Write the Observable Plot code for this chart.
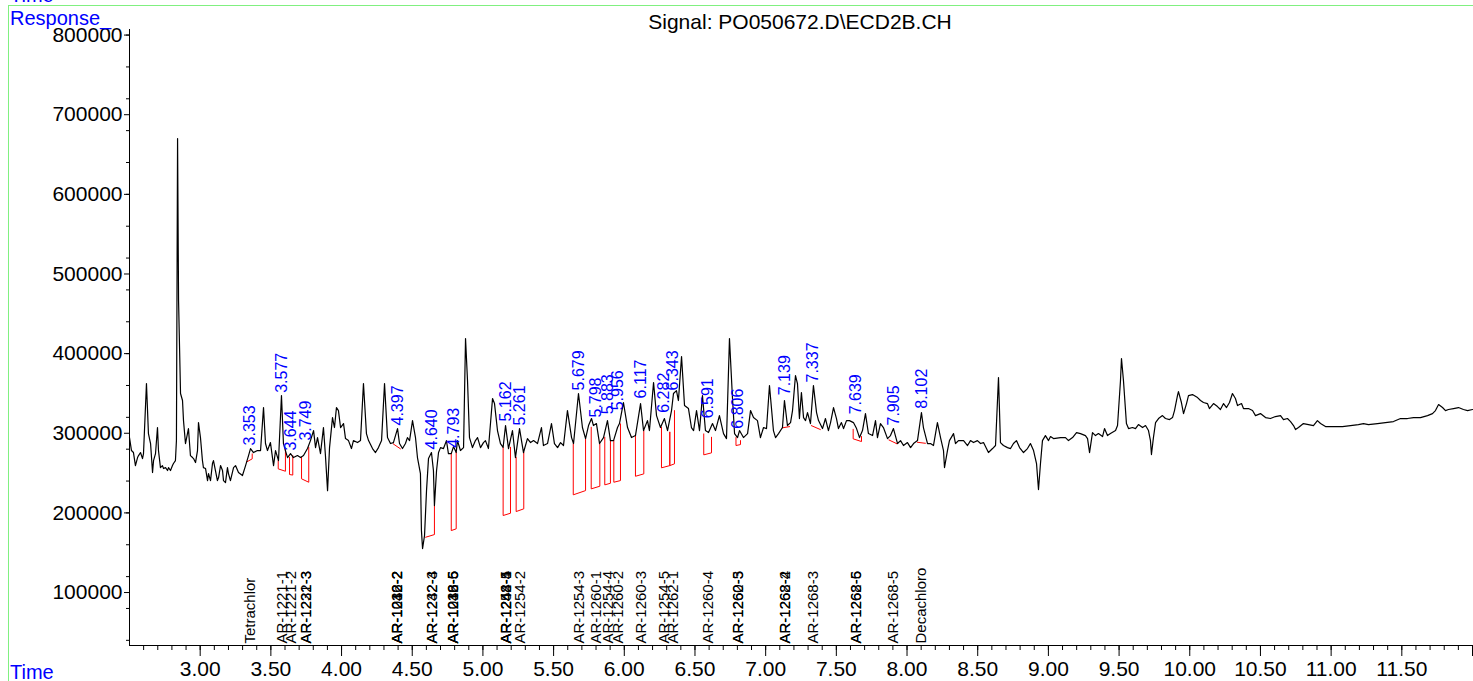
<!DOCTYPE html>
<html>
<head>
<meta charset="utf-8">
<script src="https://cdn.jsdelivr.net/npm/d3@7"></script>
<script src="https://cdn.jsdelivr.net/npm/@observablehq/plot@0.6"></script>
<style>
  html, body { margin: 0; padding: 0; background: #fff; }
  #wrap { position: relative; width: 1473px; height: 681px; overflow: hidden; background: #fff; font-family: "Liberation Sans", Arial, sans-serif; }
  #chart { position: absolute; left: 0; top: 0; }
  .frame { position: absolute; left: 8px; top: 5px; width: 1500px; height: 700px; border-left: 1px solid #80f080; border-top: 1px solid #80f080; }
  .lbl { position: absolute; font-size: 20px; line-height: 20px; color: #0000ff; white-space: nowrap; }
  .title { position: absolute; left: 800px; top: 11px; transform: translateX(-50%); font-size: 21px; line-height: 21px; color: #000; white-space: nowrap; }
</style>
</head>
<body>
<div id="wrap">
  <div id="chart"></div>
  <div class="frame"></div>
  <div class="lbl" style="left:10px; top:-15px;">Time</div>
  <div class="lbl" style="left:10px; top:8px;">Response_</div>
  <div class="lbl" style="left:10px; top:662px;">Time</div>
  <div class="title">Signal: PO050672.D\ECD2B.CH</div>
</div>
<script>
// Chromatogram trace: [retention time (min), response]
const trace = [
[2.500,294600],[2.514,278300],[2.528,275800],[2.542,259400],[2.557,269500],[2.564,272000],[2.578,275800],[2.592,268200],[2.599,274500],
[2.620,362400],[2.634,299600],[2.649,287100],[2.663,250700],[2.670,265700],[2.684,274500],[2.698,307200],[2.705,278300],[2.719,256900],
[2.733,259400],[2.741,255700],[2.755,256900],[2.769,253200],[2.776,256900],[2.790,253200],[2.804,259400],[2.811,262000],[2.825,265700],
[2.832,290800],[2.840,670000],[2.847,466600],[2.861,349900],[2.875,341100],[2.882,315900],[2.896,287100],[2.910,299600],[2.917,305900],
[2.931,272000],[2.946,269500],[2.953,268200],[2.967,263200],[2.981,278300],[2.988,313400],[3.002,294600],[3.016,265700],[3.023,256900],
[3.038,255700],[3.052,240600],[3.059,249400],[3.073,240600],[3.087,262000],[3.094,265700],[3.108,253200],[3.122,240600],[3.130,244400],
[3.144,259400],[3.158,253200],[3.165,240600],[3.179,238100],[3.193,256900],[3.200,249400],[3.214,240600],[3.236,256900],[3.250,259400],
[3.271,250700],[3.299,246900],[3.321,259400],[3.342,272000],[3.356,280800],[3.377,275800],[3.405,278300],[3.427,278300],[3.448,332300],
[3.462,287100],[3.476,278300],[3.497,288300],[3.519,259400],[3.533,278300],[3.554,265700],[3.575,347300],[3.589,287100],[3.603,278300],
[3.618,269500],[3.639,274500],[3.660,269500],[3.688,272000],[3.710,269500],[3.731,272000],[3.759,280800],[3.780,290800],[3.802,303400],
[3.816,282000],[3.830,294600],[3.851,274500],[3.872,307200],[3.886,272000],[3.901,228000],[3.915,282000],[3.936,319700],[3.950,307200],
[3.964,332300],[3.978,328500],[3.993,307200],[4.014,312200],[4.028,293300],[4.049,290800],[4.070,280800],[4.084,290800],[4.113,288300],
[4.134,290800],[4.155,362400],[4.176,299600],[4.191,290800],[4.219,280800],[4.240,275800],[4.261,282000],[4.283,290800],[4.304,362400],
[4.325,294600],[4.346,287100],[4.367,288300],[4.396,305900],[4.410,287100],[4.431,280800],[4.452,287100],[4.466,294600],[4.481,290800],
[4.502,315900],[4.523,294600],[4.537,269500],[4.558,249400],[4.565,177800],[4.573,155200],[4.587,171600],[4.601,228000],[4.615,268200],
[4.636,275800],[4.650,253200],[4.657,209200],[4.672,253200],[4.686,275800],[4.700,282000],[4.721,280800],[4.742,290800],[4.756,274500],
[4.776,274500],[4.792,283300],[4.811,275800],[4.820,290800],[4.841,278300],[4.863,282000],[4.877,418900],[4.891,366200],[4.905,294600],
[4.926,282000],[4.947,290800],[4.962,294600],[4.983,282000],[5.004,288300],[5.018,290800],[5.039,280800],[5.068,343600],[5.082,337300],
[5.103,303400],[5.124,287100],[5.143,282400],[5.160,309700],[5.181,280800],[5.209,303400],[5.230,269500],[5.259,305900],[5.287,275800],
[5.315,293300],[5.337,288300],[5.358,290800],[5.386,287100],[5.414,307200],[5.428,284600],[5.457,287100],[5.485,312200],[5.506,287100],
[5.528,282000],[5.549,288300],[5.570,284600],[5.598,328500],[5.627,294600],[5.641,287100],[5.676,349900],[5.704,307200],[5.726,293300],
[5.747,309700],[5.768,318500],[5.782,309700],[5.803,312200],[5.825,287100],[5.853,294600],[5.881,315900],[5.902,290800],[5.924,290800],
[5.952,307200],[5.966,312200],[5.994,338600],[6.023,307200],[6.051,294600],[6.079,297100],[6.115,337300],[6.136,303400],[6.164,315900],
[6.178,303400],[6.207,363700],[6.228,322200],[6.256,307200],[6.284,318500],[6.306,303400],[6.334,328500],[6.348,349900],[6.369,353600],
[6.383,341100],[6.405,396300],[6.426,334800],[6.454,331000],[6.475,307200],[6.490,303400],[6.511,328500],[6.532,303400],[6.553,347300],
[6.574,303400],[6.596,300900],[6.624,312200],[6.645,303400],[6.673,322200],[6.702,299600],[6.723,293300],[6.744,418900],[6.765,344800],
[6.780,299600],[6.801,294600],[6.815,303400],[6.843,294600],[6.872,299600],[6.893,328500],[6.914,319700],[6.942,315900],[6.963,294600],
[6.985,307200],[7.006,305900],[7.027,359900],[7.055,303400],[7.070,294600],[7.091,299600],[7.119,307200],[7.133,341100],[7.154,309700],
[7.176,313400],[7.190,328500],[7.211,372400],[7.225,362400],[7.239,318500],[7.253,351100],[7.268,319700],[7.282,315900],[7.296,326000],
[7.317,312200],[7.338,359900],[7.360,326000],[7.374,315900],[7.402,305900],[7.423,318500],[7.444,303400],[7.459,313400],[7.480,332300],
[7.501,318500],[7.515,305900],[7.536,313400],[7.551,305900],[7.572,315900],[7.593,315900],[7.621,313400],[7.643,305900],[7.664,294600],
[7.685,303400],[7.706,324700],[7.727,299600],[7.756,297100],[7.777,315900],[7.791,294600],[7.812,312200],[7.833,307200],[7.862,293300],
[7.883,297100],[7.904,305900],[7.933,287100],[7.954,290800],[7.975,284600],[8.003,288300],[8.025,282000],[8.046,287100],[8.074,290800],
[8.102,326000],[8.116,307200],[8.145,287100],[8.166,287100],[8.187,284600],[8.215,313400],[8.237,294600],[8.258,278300],[8.265,256900],
[8.286,278300],[8.300,290800],[8.329,299600],[8.343,287100],[8.364,290800],[8.400,290800],[8.428,284600],[8.449,290800],[8.470,288300],
[8.498,290800],[8.520,287100],[8.541,288300],[8.576,275800],[8.605,280800],[8.626,284600],[8.647,369900],[8.661,288300],[8.682,284600],
[8.711,282000],[8.732,280800],[8.753,287100],[8.774,290800],[8.796,282000],[8.824,275800],[8.852,280800],[8.873,287100],[8.895,278300],
[8.916,262000],[8.930,229300],[8.944,262000],[8.958,290800],[8.979,297100],[9.001,290800],[9.015,295900],[9.036,293300],[9.086,294600],
[9.121,294600],[9.142,290800],[9.171,294600],[9.199,300900],[9.227,299600],[9.262,297100],[9.277,293300],[9.291,275800],[9.312,300900],
[9.333,297100],[9.354,299600],[9.383,295900],[9.397,305900],[9.418,297100],[9.439,299600],[9.475,303400],[9.489,309700],[9.510,366200],
[9.517,393800],[9.531,366200],[9.552,312200],[9.567,305900],[9.595,307200],[9.616,305900],[9.637,310900],[9.666,307200],[9.687,309700],
[9.708,303400],[9.722,290800],[9.729,273300],[9.743,294600],[9.758,313400],[9.779,318500],[9.807,322200],[9.828,318500],[9.857,317200],
[9.878,319700],[9.892,328500],[9.913,347300],[9.920,352400],[9.941,338600],[9.956,324700],[9.977,337300],[9.991,347300],[10.019,348600],
[10.055,344800],[10.076,341100],[10.097,338600],[10.125,337300],[10.139,331000],[10.168,337300],[10.196,333500],[10.217,329800],[10.239,337300],
[10.260,332300],[10.281,338600],[10.302,349900],[10.323,343600],[10.338,334800],[10.366,337300],[10.380,331000],[10.415,331000],[10.444,328500],
[10.465,322200],[10.500,324700],[10.536,319700],[10.571,318500],[10.606,321000],[10.642,322200],[10.663,317200],[10.691,318500],[10.713,314700],
[10.734,309700],[10.748,304600],[10.769,307200],[10.804,312200],[10.840,310900],[10.875,309700],[10.903,315900],[10.925,312200],[10.960,308400],
[11.017,308400],[11.080,308400],[11.137,309700],[11.193,310900],[11.229,312200],[11.264,310900],[11.328,312200],[11.384,313400],[11.441,314700],
[11.491,318500],[11.540,318500],[11.583,319700],[11.632,319700],[11.682,322200],[11.717,324700],[11.738,328500],[11.760,336000],[11.788,332300],
[11.809,328500],[11.830,329800],[11.866,331000],[11.901,332300],[11.936,329800],[11.965,328500],[12.000,329800]
];

// Integrated peaks: retention time and apex response (blue labels)
const peakRT = [3.353, 3.577, 3.644, 3.749, 4.397, 4.640, 4.793, 5.162, 5.261, 5.679, 5.798, 5.883, 5.956, 6.117, 6.282, 6.343, 6.591, 6.806, 7.139, 7.337, 7.639, 7.905, 8.102];
const peakHeight = [281000, 347000, 274500, 287000, 306000, 276000, 278000, 311000, 306000, 350000, 316000, 320000, 325000, 340000, 322000, 350000, 315000, 302000, 344000, 360000, 320000, 306000, 327000];

// Integration baselines: [startTime, startTop, startBase, endTime, endBase, endTop]
const baselines = [
[3.325,263600,263600,3.368,267900,274100],
[3.552,265700,255300,3.603,252300,280400],
[3.632,269900,248200,3.655,247500,272000],
[3.717,269900,242800,3.768,238500,282400],
[4.365,286700,286700,4.417,280400,280400],
[4.594,169400,169400,4.657,172800,209200],
[4.776,274500,177800,4.811,180000,276100],
[5.143,282400,196700,5.195,199600,282400],
[5.235,269900,201700,5.289,205100,276100],
[5.639,286700,222700,5.726,228000,293000],
[5.766,307600,230200,5.827,233500,286700],
[5.862,295000,235200,5.902,237200,290800],
[5.926,290800,238500,5.973,240600,311800],
[6.079,297100,246000,6.138,249000,303400],
[6.263,307600,256600,6.322,259400,301300],
[6.322,301300,259400,6.355,261600,328500],
[6.562,299200,272900,6.617,275400,295000],
[6.790,294600,284600,6.822,285800,290800],
[7.117,306800,306800,7.171,308400,308400],
[7.322,309700,309700,7.388,304600,304600],
[7.619,305000,293000,7.678,289600,295900],
[7.871,291700,291700,7.930,286700,286700],
[8.072,288700,288700,8.131,287400,287400]
];

// Compound identification labels (bottom)
const compoundRT = [3.353, 3.577, 3.644, 3.749, 3.749, 4.397, 4.397, 4.397, 4.640, 4.640, 4.793, 4.793, 4.793, 5.162, 5.162, 5.162, 5.261, 5.679, 5.798, 5.883, 5.956, 6.117, 6.282, 6.343, 6.591, 6.806, 6.806, 7.139, 7.139, 7.337, 7.639, 7.639, 7.905, 8.102];
const compoundName = ["Tetrachlor", "AR-1221-1", "AR-1221-2", "AR-1221-3", "AR-1232-3", "AR-1016-2", "AR-1232-2", "AR-1242-2", "AR-1232-4", "AR-1242-3", "AR-1016-5", "AR-1242-5", "AR-1238-6", "AR-1248-4", "AR-1242-5", "AR-1254-1", "AR-1254-2", "AR-1254-3", "AR-1260-1", "AR-1254-4", "AR-1260-2", "AR-1260-3", "AR-1254-5", "AR-1262-1", "AR-1260-4", "AR-1260-5", "AR-1262-3", "AR-1262-4", "AR-1268-2", "AR-1268-3", "AR-1262-5", "AR-1268-6", "AR-1268-5", "Decachloro"];

// Axis ticks
const xMajorTicks = [3.0, 3.5, 4.0, 4.5, 5.0, 5.5, 6.0, 6.5, 7.0, 7.5, 8.0, 8.5, 9.0, 9.5, 10.0, 10.5, 11.0, 11.5];
const xEndTick = [12.0];
const yMajorTicks = [100000, 200000, 300000, 400000, 500000, 600000, 700000, 800000];

const xMinorTicks = d3.range(26, 120).map(i => i / 10);
const yMinorTicks = d3.range(1, 21).map(i => i * 40000);

const xDomain = [2.5, 12.0];
const yDomain = [33500, 807000];

const traceData = trace.map(([t, r]) => ({t, r}));
const peaks = peakRT.map((rt, i) => ({rt, h: peakHeight[i]}));
const baseData = baselines.flatMap(([t0, a0, b0, t1, b1, a1], i) => [
  {id: i, t: t0, r: a0}, {id: i, t: t0, r: b0}, {id: i, t: t1, r: b1}, {id: i, t: t1, r: a1}
]);
const compounds = compoundRT.map((rt, i) => ({rt, name: compoundName[i]}));

const chart = Plot.plot({
  width: 1473,
  height: 681,
  marginLeft: 129,
  marginRight: 1,
  marginTop: 29,
  marginBottom: 36,
  x: {domain: xDomain},
  y: {domain: yDomain},
  style: {fontFamily: "'Liberation Sans', Arial, sans-serif", fontSize: "21px", color: "#000", background: "transparent"},
  marks: [
    Plot.axisY(yMinorTicks, {tickSize: 3, tickFormat: () => "", label: null}),
    Plot.axisY(yMajorTicks, {tickSize: 5, tickPadding: 2, tickFormat: d => String(d), label: null, fontSize: 21}),
    Plot.axisX(xMinorTicks, {tickSize: 5, tickFormat: () => "", label: null}),
    Plot.axisX(xEndTick, {tickSize: 11, tickFormat: () => "", label: null}),
    Plot.axisX(xMajorTicks, {tickSize: 11, tickPadding: 5, tickFormat: d => d.toFixed(2), label: null, fontSize: 21}),
    Plot.ruleX([xDomain[0]], {stroke: "#000"}),
    Plot.ruleY([yDomain[0]], {stroke: "#000"}),
    Plot.line(baseData, {x: "t", y: "r", z: "id", stroke: "#ff0000", strokeWidth: 1}),
    Plot.line(traceData, {x: "t", y: "r", stroke: "#000", strokeWidth: 1.2}),
    Plot.text(peaks, {x: "rt", y: "h", text: d => d.rt.toFixed(3), rotate: -90, textAnchor: "start", lineAnchor: "middle", dy: -3, fill: "#0000ff", fontSize: 16}),
    Plot.text(compounds, {x: "rt", frameAnchor: "bottom", text: "name", rotate: -90, textAnchor: "start", lineAnchor: "middle", dy: -2, fill: "#000", fontSize: 15})
  ]
});
document.getElementById("chart").appendChild(chart);
</script>
</body>
</html>
